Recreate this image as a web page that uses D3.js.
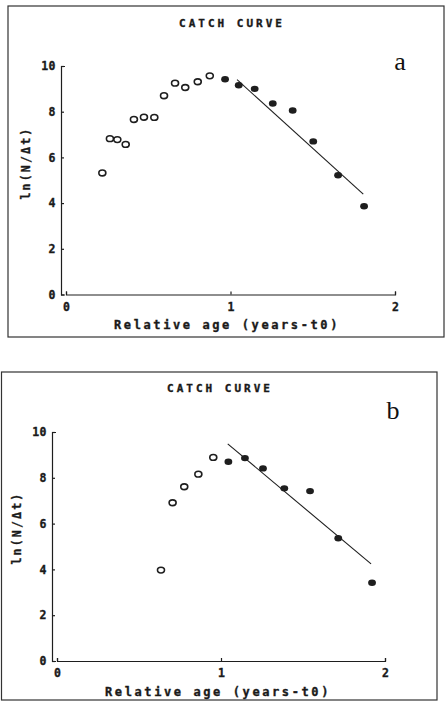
<!DOCTYPE html>
<html>
<head>
<meta charset="utf-8">
<script src="https://cdn.jsdelivr.net/npm/d3@7"></script>
<style>
  html, body { margin: 0; padding: 0; background: #fff; }
  svg { display: block; }
  .mono { font-family: "DejaVu Sans Mono", monospace; font-weight: bold; fill: #1a1a1a; stroke: #1a1a1a; stroke-width: 0.35px; }
</style>
</head>
<body>
<svg id="chart" width="446" height="702"></svg>
<script>
// ---- Data ----
const titleText = "CATCH CURVE";
const xLabelText = "Relative age (years-t0)";
const yLabelText = "ln(N/\u0394t)";
const xTicks = [0, 1, 2];
const yTicks = [0, 2, 4, 6, 8, 10];

// Panel a
const aOpenX = [0.221, 0.267, 0.312, 0.363, 0.413, 0.474, 0.537, 0.596, 0.663, 0.725, 0.801, 0.874];
const aOpenY = [5.32, 6.82, 6.78, 6.57, 7.66, 7.76, 7.75, 8.70, 9.25, 9.06, 9.31, 9.57];
const aFillX = [0.967, 1.050, 1.147, 1.257, 1.378, 1.503, 1.654, 1.812];
const aFillY = [9.42, 9.16, 9.00, 8.36, 8.05, 6.70, 5.22, 3.86];
const aLineX = [1.04, 1.807];
const aLineY = [9.40, 4.39];

// Panel b
const bOpenX = [0.634, 0.705, 0.776, 0.862, 0.953];
const bOpenY = [3.97, 6.91, 7.61, 8.16, 8.89];
const bFillX = [1.045, 1.146, 1.256, 1.386, 1.543, 1.715, 1.921];
const bFillY = [8.70, 8.86, 8.41, 7.54, 7.42, 5.36, 3.42];
const bLineX = [1.041, 1.915];
const bLineY = [9.48, 4.24];

const panels = [
  { tag: "a", open: [aOpenX, aOpenY], fill: [aFillX, aFillY], line: [aLineX, aLineY],
    frame: [8, 6, 444, 337], x0: 66, x2: 395, y0: 294.5, y10: 66, yAxisX: 61,
    titleX: 232, titleY: 27, tagX: 400, tagY: 70, ylabX: 26, ylabY: 163, xlabX: 227, xlabY: 329 },
  { tag: "b", open: [bOpenX, bOpenY], fill: [bFillX, bFillY], line: [bLineX, bLineY],
    frame: [1.5, 372, 437, 700], x0: 57, x2: 385, y0: 661, y10: 432, yAxisX: 52,
    titleX: 220, titleY: 392, tagX: 393, tagY: 419, ylabX: 17, ylabY: 528, xlabX: 218, xlabY: 696 }
];

const svg = d3.select("#chart");
const ink = "#1e1e1e";

panels.forEach(p => {
  const g = svg.append("g");
  const [fx0, fy0, fx1, fy1] = p.frame;
  g.append("rect").attr("x", fx0).attr("y", fy0).attr("width", fx1 - fx0).attr("height", fy1 - fy0)
    .attr("fill", "none").attr("stroke", "#333").attr("stroke-width", 1.2);

  const x = d3.scaleLinear().domain([0, 2]).range([p.x0, p.x2]);
  const y = d3.scaleLinear().domain([0, 10]).range([p.y0, p.y10]);

  // Y axis
  const ya = g.append("g").attr("transform", `translate(${p.yAxisX},0)`)
    .call(d3.axisLeft(y).tickValues(yTicks).tickFormat(d3.format("d"))
      .tickSizeInner(-3).tickSizeOuter(-4).tickPadding(5));
  ya.select(".domain").attr("stroke", ink).attr("stroke-width", 1.2);
  ya.selectAll(".tick line").attr("stroke", ink).attr("stroke-width", 1.2);
  ya.selectAll(".tick text").attr("class", "mono").attr("font-size", 11.5).attr("letter-spacing", 0.5);

  // X axis
  const xa = g.append("g").attr("transform", `translate(0,${p.y0})`)
    .call(d3.axisBottom(x).tickValues(xTicks).tickFormat(d3.format("d"))
      .tickSizeInner(-3).tickSizeOuter(-3).tickPadding(8));
  xa.select(".domain").attr("stroke", ink).attr("stroke-width", 1.2);
  xa.selectAll(".tick line").attr("stroke", ink).attr("stroke-width", 1.2);
  xa.selectAll(".tick text").attr("class", "mono").attr("font-size", 11.5);

  // Titles
  g.append("text").attr("class", "mono").attr("x", p.titleX).attr("y", p.titleY)
    .attr("text-anchor", "middle").attr("font-size", 11).attr("letter-spacing", 3).text(titleText);
  g.append("text").attr("class", "mono").attr("x", p.xlabX).attr("y", p.xlabY)
    .attr("text-anchor", "middle").attr("font-size", 12).attr("letter-spacing", 2.6).text(xLabelText);
  g.append("text").attr("class", "mono")
    .attr("transform", `translate(${p.ylabX},${p.ylabY}) rotate(-90)`)
    .attr("text-anchor", "middle").attr("dy", "0.35em").attr("font-size", 11.5).attr("letter-spacing", 2.2)
    .text(yLabelText);
  g.append("text").attr("x", p.tagX).attr("y", p.tagY).attr("text-anchor", "middle")
    .attr("font-family", "'Liberation Serif', 'DejaVu Serif', serif").attr("font-size", 26)
    .attr("fill", "#111").text(p.tag);

  // Regression line
  const [lx, ly] = p.line;
  g.append("line").attr("x1", x(lx[0])).attr("y1", y(ly[0])).attr("x2", x(lx[1])).attr("y2", y(ly[1]))
    .attr("stroke", ink).attr("stroke-width", 1.1);

  // Open points
  const openPts = p.open[0].map((v, i) => [v, p.open[1][i]]);
  g.selectAll(".op").data(openPts).join("ellipse")
    .attr("cx", d => x(d[0])).attr("cy", d => y(d[1])).attr("rx", 3.5).attr("ry", 2.9)
    .attr("fill", "none").attr("stroke", ink).attr("stroke-width", 1.6);

  // Filled points
  const fillPts = p.fill[0].map((v, i) => [v, p.fill[1][i]]);
  g.selectAll(".fp").data(fillPts).join("ellipse")
    .attr("cx", d => x(d[0])).attr("cy", d => y(d[1])).attr("rx", 3.9).attr("ry", 3.2)
    .attr("fill", ink);
});
</script>
</body>
</html>
